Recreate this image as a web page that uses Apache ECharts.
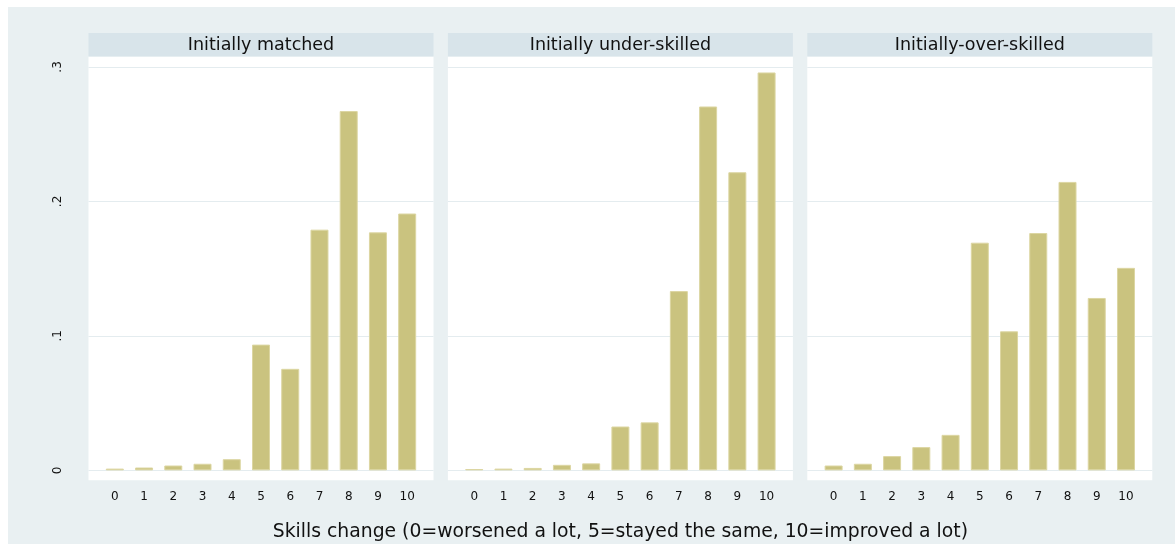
<!DOCTYPE html>
<html><head><meta charset="utf-8">
<script src="https://cdn.jsdelivr.net/npm/echarts@6/dist/echarts.min.js"></script>
<style>html,body{margin:0;padding:0;background:#fff;}#c{position:absolute;left:8px;top:7px;width:1167px;height:537px;}</style>
</head><body><div id="c"></div>
<script>
// ---- data ----
const categories = [0, 1, 2, 3, 4, 5, 6, 7, 8, 9, 10];
const panelTitles = ['Initially matched', 'Initially under-skilled', 'Initially-over-skilled'];
const matched      = [0.0013, 0.0021, 0.0036, 0.0049, 0.0083, 0.0935, 0.0755, 0.1790, 0.2672, 0.1770, 0.1910];
const underSkilled = [0.0010, 0.0013, 0.0018, 0.0041, 0.0052, 0.0326, 0.0357, 0.1333, 0.2706, 0.2217, 0.2959];
const overSkilled  = [0.0036, 0.0049, 0.0106, 0.0173, 0.0264, 0.1693, 0.1034, 0.1765, 0.2145, 0.1282, 0.1506];
const yTicks = [0, 0.1, 0.2, 0.3];
const xTitle = 'Skills change (0=worsened a lot, 5=stayed the same, 10=improved a lot)';

// ---- layout / style ----
const FONT = 'DejaVu Sans';
const panelLeft = [80.5, 439.9, 799.3];
const panelW = 345;
const gridTop = 49.6, gridH = 423.7;
const stripTop = 26, stripH = 23.6;
const bg = '#e9f0f2', stripColor = '#d8e4ea';
const barColor = '#cac37f', barEdge = '#dcd6a2', gridColor = '#e4ecef';
const seriesData = [matched, underSkilled, overSkilled];

const chart = echarts.init(document.getElementById('c'));
const grids = [], xAxes = [], yAxes = [], series = [], graphics = [];
seriesData.forEach((vals, i) => {
  grids.push({left: panelLeft[i], top: gridTop, width: panelW, height: gridH,
    show: true, backgroundColor: '#fff', borderWidth: 0});
  xAxes.push({type: 'value', gridIndex: i, min: -0.9, max: 10.9,
    axisLine: {show: false}, axisTick: {show: false}, splitLine: {show: false},
    axisLabel: {customValues: categories, fontFamily: FONT, fontSize: 12, color: '#111', margin: 11}});
  yAxes.push({type: 'value', gridIndex: i, min: -0.0074, max: 0.3077,
    axisLine: {show: false}, axisTick: {show: false}, splitLine: {show: false},
    axisLabel: {show: i === 0, customValues: yTicks, rotate: 90, fontFamily: FONT, fontSize: 12, color: '#111', margin: 25,
      formatter: v => (v === 0 ? '0' : String(+v.toFixed(2)).replace(/^0/, ''))}});
  series.push({type: 'bar', xAxisIndex: i, yAxisIndex: i, barWidth: 18, z: 2,
    data: categories.map((c, j) => [c, vals[j]]),
    itemStyle: {color: barColor, borderColor: barEdge, borderWidth: 1},
    markLine: {silent: true, z: 1, symbol: ['none', 'none'], label: {show: false},
      lineStyle: {color: gridColor, width: 1, type: 'solid'},
      data: yTicks.map(v => ({yAxis: v}))}});
  graphics.push({type: 'rect', shape: {x: panelLeft[i], y: stripTop, width: panelW, height: stripH},
    style: {fill: stripColor}, silent: true});
  graphics.push({type: 'text', x: panelLeft[i] + panelW / 2, y: stripTop + stripH / 2 + 0.5,
    style: {text: panelTitles[i], font: '17.5px "DejaVu Sans"', fill: '#111', align: 'center', verticalAlign: 'middle'}, silent: true});
});
graphics.push({type: 'text', x: (panelLeft[0] + panelLeft[2] + panelW) / 2, y: 525,
  style: {text: xTitle, font: '18.8px "DejaVu Sans"', fill: '#111', align: 'center', verticalAlign: 'middle'}, silent: true});

chart.setOption({
  animation: false,
  backgroundColor: bg,
  grid: grids, xAxis: xAxes, yAxis: yAxes, series: series, graphic: graphics
});
</script></body></html>
